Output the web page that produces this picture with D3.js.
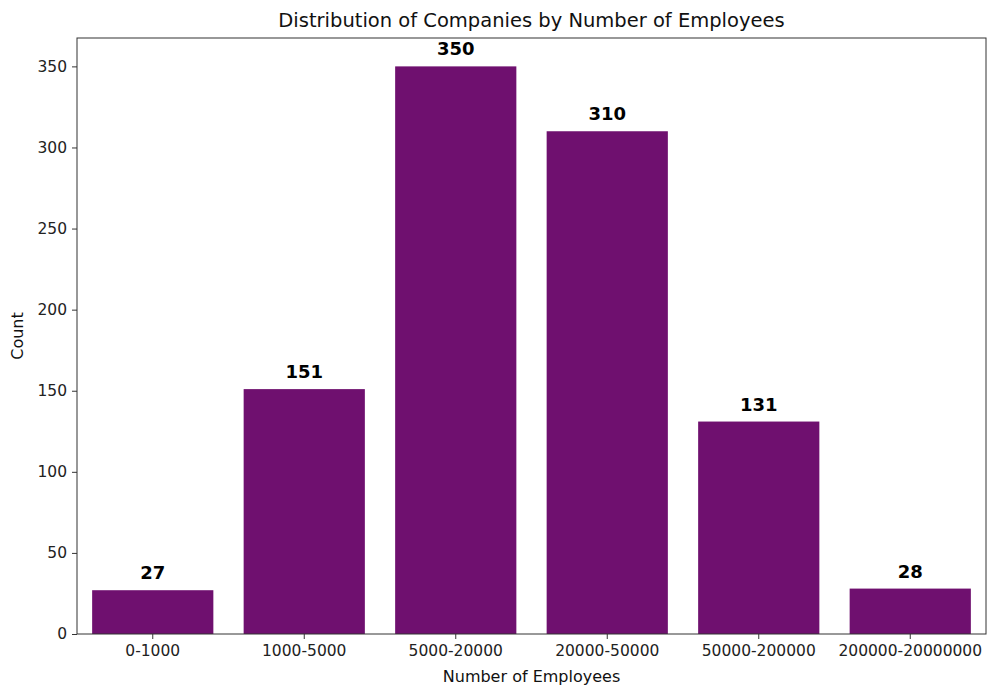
<!DOCTYPE html>
<html><head><meta charset="utf-8">
<script src="https://cdn.jsdelivr.net/npm/d3@7"></script>
<style>body{margin:0;background:#fff}svg{display:block}text{font-family:"DejaVu Sans",sans-serif}</style>
</head><body><svg id="c" width="987" height="686"></svg>
<script>
const categories = ["0-1000","1000-5000","5000-20000","20000-50000","50000-200000","200000-20000000"];
const counts = [27,151,350,310,131,28];
const yTicks = [0,50,100,150,200,250,300,350];

const svg = d3.select("#c");
const L=77, R=986, T=38, B=634;
const x = d3.scaleBand().domain(categories).range([L,R]).paddingInner(0.2).paddingOuter(0.1);
const y = d3.scaleLinear().domain([0,367.5]).range([B,T]);
const color="#6f106f";

svg.append("g").selectAll("rect").data(counts).join("rect")
  .attr("x",(d,i)=>x(categories[i])).attr("width",x.bandwidth())
  .attr("y",d=>y(d)).attr("height",d=>y(0)-y(d)).attr("fill",color);

svg.append("g").selectAll("text").data(counts).join("text")
  .attr("x",(d,i)=>x(categories[i])+x.bandwidth()/2).attr("y",d=>y(d)-11)
  .attr("text-anchor","middle").attr("font-size","18px").attr("font-weight","bold").attr("fill","#000")
  .text(d=>d);

const ya = svg.append("g").attr("transform",`translate(${L},0)`).call(d3.axisLeft(y).tickValues(yTicks).tickSize(5).tickPadding(5));
const xa = svg.append("g").attr("transform",`translate(0,${B})`).call(d3.axisBottom(x).tickSize(5).tickPadding(6));
[ya,xa].forEach(a=>{a.select(".domain").remove();a.selectAll("line").attr("stroke","#333");a.selectAll("text").attr("font-size","15.5px").attr("fill","#222").attr("font-family","DejaVu Sans");});

svg.append("rect").attr("x",L).attr("y",T).attr("width",R-L).attr("height",B-T).attr("fill","none").attr("stroke","#333").attr("stroke-width",1);

svg.append("text").attr("x",(L+R)/2).attr("y",27).attr("text-anchor","middle").attr("font-size","19.5px").attr("fill","#111").text("Distribution of Companies by Number of Employees");
svg.append("text").attr("x",(L+R)/2).attr("y",682).attr("text-anchor","middle").attr("font-size","16px").attr("fill","#111").text("Number of Employees");
svg.append("text").attr("transform",`translate(23,${(T+B)/2}) rotate(-90)`).attr("text-anchor","middle").attr("font-size","16px").attr("fill","#111").text("Count");
</script></body></html>
